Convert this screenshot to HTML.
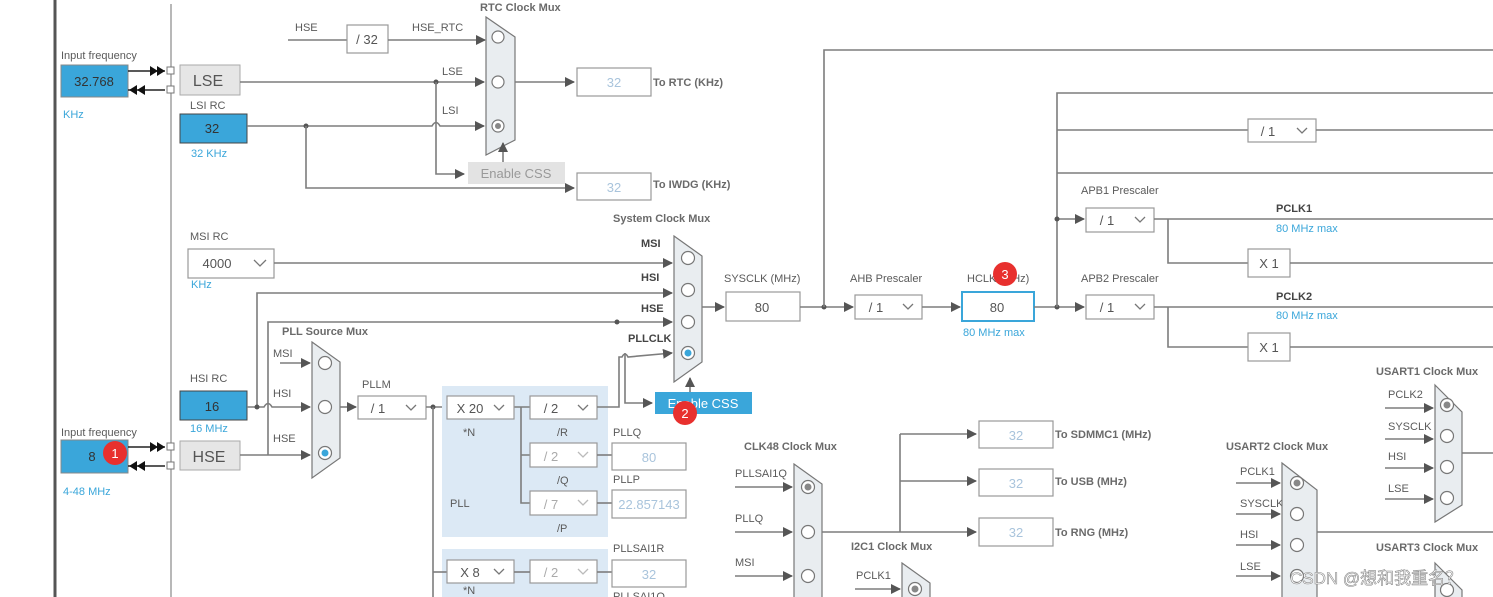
<!DOCTYPE html>
<html><head><meta charset="utf-8"><style>
html,body{margin:0;padding:0;background:#fff;}
svg{display:block;font-family:"Liberation Sans","Noto Sans CJK SC",sans-serif;}
.l{stroke:#7d7d7d;stroke-width:1.6;fill:none}
.t{font-size:11px;fill:#5a5a5a}
.b{font-size:11px;fill:#6a6a6a;font-weight:bold}
.blu{font-size:11px;fill:#3aa6da}
.box{fill:#fff;stroke:#999;stroke-width:1.2}
.dd{fill:#fff;stroke:#999;stroke-width:1.2}
.v{font-size:13px;fill:#555;text-anchor:middle}
.vl{font-size:13px;fill:#a9c4dc;text-anchor:middle}
.mux{fill:#e9edf0;stroke:#777;stroke-width:1.2}
.c{fill:#fff;stroke:#777;stroke-width:1.2}
.dot{fill:#555}
</style></head><body>
<svg width="1493" height="597" viewBox="0 0 1493 597" xmlns="http://www.w3.org/2000/svg">
<defs>
<marker id="a" markerWidth="10" markerHeight="10" refX="9" refY="5" orient="auto" markerUnits="userSpaceOnUse"><path d="M0,0 L10,5 L0,10 z" fill="#555"/></marker>
</defs>
<line x1="55" y1="0" x2="55" y2="597" stroke="#555" stroke-width="3"/>
<line x1="171" y1="4" x2="171" y2="597" stroke="#888" stroke-width="1.2"/>

<text class="t" x="61" y="59">Input frequency</text>
<rect x="61" y="65" width="67" height="32" fill="#3aa6da" stroke="#888"/>
<text class="v" x="94" y="86" style="fill:#333">32.768</text>
<text class="blu" x="63" y="118">KHz</text>
<line x1="128" y1="71" x2="165" y2="71" stroke="#222" stroke-width="1.5"/>
<path d="M150,66 L158,71 L150,76z M157,66 L165,71 L157,76z" fill="#111"/>
<line x1="128" y1="90" x2="165" y2="90" stroke="#222" stroke-width="1.5"/>
<path d="M137,85 L129,90 L137,95z M145,85 L137,90 L145,95z" fill="#111"/>
<rect x="167" y="67" width="7" height="7" fill="#fff" stroke="#777"/>
<rect x="167" y="86" width="7" height="7" fill="#fff" stroke="#777"/>
<rect x="180" y="65" width="60" height="30" fill="#e6e6e6" stroke="#aaa"/>
<text x="208" y="86" style="font-size:16px;fill:#555;text-anchor:middle">LSE</text>

<text class="t" x="190" y="109">LSI RC</text>
<rect x="180" y="114" width="67" height="29" fill="#3aa6da" stroke="#444"/>
<text class="v" x="212" y="133" style="fill:#333">32</text>
<text class="blu" x="191" y="157">32 KHz</text>

<text class="t" x="295" y="31">HSE</text>
<line class="l" x1="288" y1="40" x2="347" y2="40"/>
<rect class="box" x="347" y="25" width="41" height="28"/>
<text class="v" x="367" y="44">/ 32</text>
<text class="t" x="412" y="31">HSE_RTC</text>
<line class="l" x1="388" y1="40" x2="485" y2="40" marker-end="url(#a)"/>
<line class="l" x1="240" y1="82" x2="484" y2="82" marker-end="url(#a)"/>
<circle class="dot" cx="436" cy="82" r="2.5"/>
<text class="t" x="442" y="75">LSE</text>
<path class="l" d="M247,126 L432,126 Q436,119 440,126 L484,126" marker-end="url(#a)"/>
<circle class="dot" cx="306" cy="126" r="2.5"/>
<text class="t" x="442" y="114">LSI</text>
<path class="l" d="M436,82 L436,174 L464,174" marker-end="url(#a)"/>
<rect x="468" y="162" width="97" height="22" fill="#e3e3e3"/>
<text x="516" y="178" style="font-size:13px;fill:#999;text-anchor:middle">Enable CSS</text>
<path class="l" d="M306,126 L306,188 L574,188" marker-end="url(#a)"/>
<text class="b" x="480" y="11">RTC Clock Mux</text>
<path class="mux" d="M486,17 L515,37 L515,140 L486,155 z"/>
<circle class="c" cx="498" cy="37" r="6"/>
<circle class="c" cx="498" cy="82" r="6"/>
<circle class="c" cx="498" cy="126" r="6"/><circle cx="498" cy="126" r="3" fill="#888"/>
<line class="l" x1="503" y1="162" x2="503" y2="143" marker-end="url(#a)"/>
<line class="l" x1="515" y1="82" x2="574" y2="82" marker-end="url(#a)"/>
<rect class="box" x="577" y="68" width="74" height="28"/>
<text class="vl" x="614" y="87">32</text>
<text class="b" x="653" y="86">To RTC (KHz)</text>
<rect class="box" x="577" y="173" width="74" height="27"/>
<text class="vl" x="614" y="192">32</text>
<text class="b" x="653" y="188">To IWDG (KHz)</text>

<text class="t" x="190" y="240">MSI RC</text>
<rect class="dd" x="188" y="249" width="86" height="29"/>
<text class="v" x="217" y="268">4000</text>
<path d="M254,260 L260,266 L266,260" stroke="#777" fill="none" stroke-width="1.3"/>
<text class="blu" x="191" y="288">KHz</text>
<line class="l" x1="274" y1="263" x2="672" y2="263" marker-end="url(#a)"/>

<path class="l" d="M257,407 L257,293 L672,293" marker-end="url(#a)"/>
<path class="l" d="M268,455 L268,322 L672,322" marker-end="url(#a)"/>
<circle class="dot" cx="617" cy="322" r="2.5"/>

<text class="t" x="190" y="382">HSI RC</text>
<rect x="180" y="391" width="67" height="29" fill="#3aa6da" stroke="#444"/>
<text class="v" x="212" y="411" style="fill:#333">16</text>
<text class="blu" x="190" y="432">16 MHz</text>
<path class="l" d="M247,407 L264,407 Q268,400 272,407 L310,407" marker-end="url(#a)"/>
<circle class="dot" cx="257" cy="407" r="2.5"/>

<text class="t" x="61" y="436">Input frequency</text>
<rect x="61" y="440" width="67" height="33" fill="#3aa6da" stroke="#888"/>
<text class="v" x="92" y="461" style="fill:#333">8</text>
<text class="blu" x="63" y="495">4-48 MHz</text>
<line x1="128" y1="447" x2="165" y2="447" stroke="#222" stroke-width="1.5"/>
<path d="M150,442 L158,447 L150,452z M157,442 L165,447 L157,452z" fill="#111"/>
<line x1="128" y1="466" x2="165" y2="466" stroke="#222" stroke-width="1.5"/>
<path d="M137,461 L129,466 L137,471z M145,461 L137,466 L145,471z" fill="#111"/>
<rect x="167" y="443" width="7" height="7" fill="#fff" stroke="#777"/>
<rect x="167" y="462" width="7" height="7" fill="#fff" stroke="#777"/>
<rect x="180" y="441" width="60" height="29" fill="#e6e6e6" stroke="#aaa"/>
<text x="209" y="462" style="font-size:16px;fill:#555;text-anchor:middle">HSE</text>
<line class="l" x1="240" y1="455" x2="310" y2="455" marker-end="url(#a)"/>
<circle cx="115" cy="453" r="12" fill="#e8302e"/>
<text x="115" y="458" style="font-size:13px;fill:#fff;text-anchor:middle">1</text>

<text class="b" x="282" y="335">PLL Source Mux</text>
<text class="t" x="273" y="357">MSI</text>
<text class="t" x="273" y="397">HSI</text>
<text class="t" x="273" y="442">HSE</text>
<line class="l" x1="280" y1="363" x2="310" y2="363" marker-end="url(#a)"/>
<path class="mux" d="M312,342 L340,362 L340,458 L312,478 z"/>
<circle class="c" cx="325" cy="363" r="6.5"/>
<circle class="c" cx="325" cy="407" r="6.5"/>
<circle class="c" cx="325" cy="453" r="6.5" stroke="#3aa6da"/><circle cx="325" cy="453" r="3.5" fill="#3aa6da"/>
<line class="l" x1="340" y1="407" x2="356" y2="407" marker-end="url(#a)"/>
<text class="t" x="362" y="388">PLLM</text>
<rect class="dd" x="358" y="396" width="68" height="23"/>
<text class="v" x="378" y="413">/ 1</text>
<path d="M406,405 L411,410 L416,405" stroke="#777" fill="none" stroke-width="1.3"/>
<line class="l" x1="426" y1="407" x2="447" y2="407"/>
<circle class="dot" cx="433" cy="407" r="2.5"/>

<rect x="442" y="386" width="166" height="151" fill="#dce9f5"/>
<rect x="442" y="549" width="166" height="48" fill="#dce9f5"/>
<line class="l" x1="433" y1="407" x2="433" y2="597"/>
<line class="l" x1="433" y1="572" x2="447" y2="572"/>
<path class="l" d="M514,407 L530,407 M521,407 L521,503 L530,503 M521,455 L530,455"/>
<rect class="dd" x="447" y="396" width="67" height="23"/>
<text class="v" x="470" y="413">X 20</text>
<path d="M494,405 L499,410 L504,405" stroke="#777" fill="none" stroke-width="1.3"/>
<text class="t" x="463" y="436">*N</text>
<rect class="dd" x="530" y="396" width="67" height="23"/>
<text class="v" x="551" y="413">/ 2</text>
<path d="M578,405 L583,410 L588,405" stroke="#777" fill="none" stroke-width="1.3"/>
<text class="t" x="557" y="436">/R</text>
<rect class="dd" x="530" y="443" width="67" height="24"/>
<text class="v" x="551" y="461" style="fill:#aaa">/ 2</text>
<path d="M578,452 L583,457 L588,452" stroke="#bbb" fill="none" stroke-width="1.3"/>
<text class="t" x="557" y="484">/Q</text>
<rect class="dd" x="530" y="491" width="67" height="24"/>
<text class="v" x="551" y="509" style="fill:#aaa">/ 7</text>
<path d="M578,500 L583,505 L588,500" stroke="#bbb" fill="none" stroke-width="1.3"/>
<text class="t" x="557" y="532">/P</text>
<text class="t" x="450" y="507">PLL</text>
<line class="l" x1="597" y1="455" x2="612" y2="455"/>
<line class="l" x1="597" y1="503" x2="612" y2="503"/>
<text class="t" x="613" y="436">PLLQ</text>
<rect class="box" x="612" y="443" width="74" height="27"/>
<text class="vl" x="649" y="462">80</text>
<text class="t" x="613" y="483">PLLP</text>
<rect class="box" x="612" y="490" width="74" height="28"/>
<text class="vl" x="649" y="509">22.857143</text>
<rect class="dd" x="447" y="560" width="67" height="23"/>
<text class="v" x="470" y="577">X 8</text>
<path d="M494,569 L499,574 L504,569" stroke="#777" fill="none" stroke-width="1.3"/>
<rect class="dd" x="530" y="560" width="67" height="23"/>
<text class="v" x="551" y="577" style="fill:#aaa">/ 2</text>
<path d="M578,569 L583,574 L588,569" stroke="#bbb" fill="none" stroke-width="1.3"/>
<line class="l" x1="514" y1="572" x2="530" y2="572"/>
<line class="l" x1="597" y1="572" x2="612" y2="572"/>
<text class="t" x="463" y="594">*N</text>
<text class="t" x="613" y="552">PLLSAI1R</text>
<rect class="box" x="612" y="560" width="74" height="27"/>
<text class="vl" x="649" y="579">32</text>
<text class="t" x="613" y="600">PLLSAI1Q</text>

<path class="l" d="M597,407 L619,407 L619,357 L622,357 Q625,351 628,357 L672,353" marker-end="url(#a)"/>
<path class="l" d="M625,353 L625,403 L652,403" marker-end="url(#a)"/>
<rect x="655" y="392" width="97" height="22" fill="#3aa6da"/>
<text x="703" y="408" style="font-size:13px;fill:#fff;text-anchor:middle">Enable CSS</text>
<line class="l" x1="690" y1="392" x2="690" y2="378" marker-end="url(#a)"/>
<circle cx="685" cy="413" r="12" fill="#e8302e"/>
<text x="685" y="418" style="font-size:13px;fill:#fff;text-anchor:middle">2</text>

<text class="b" x="613" y="222">System Clock Mux</text>
<text class="b" x="641" y="247" style="fill:#444">MSI</text>
<text class="b" x="641" y="281" style="fill:#444">HSI</text>
<text class="b" x="641" y="312" style="fill:#444">HSE</text>
<text class="b" x="628" y="342" style="fill:#444">PLLCLK</text>
<path class="mux" d="M674,236 L702,256 L702,362 L674,382 z"/>
<circle class="c" cx="688" cy="258" r="6.5"/>
<circle class="c" cx="688" cy="290" r="6.5"/>
<circle class="c" cx="688" cy="322" r="6.5"/>
<circle class="c" cx="688" cy="353" r="6.5" stroke="#3aa6da"/><circle cx="688" cy="353" r="3.5" fill="#3aa6da"/>
<line class="l" x1="702" y1="307" x2="724" y2="307" marker-end="url(#a)"/>
<text class="t" x="724" y="282">SYSCLK (MHz)</text>
<rect class="box" x="726" y="292" width="74" height="29"/>
<text class="v" x="762" y="312">80</text>
<line class="l" x1="800" y1="307" x2="853" y2="307" marker-end="url(#a)"/>
<circle class="dot" cx="824" cy="307" r="2.5"/>
<path class="l" d="M824,307 L824,50 L1493,50"/>
<text class="t" x="850" y="282">AHB Prescaler</text>
<rect class="dd" x="855" y="295" width="67" height="24"/>
<text class="v" x="876" y="312">/ 1</text>
<path d="M903,304 L908,309 L913,304" stroke="#777" fill="none" stroke-width="1.3"/>
<line class="l" x1="922" y1="307" x2="960" y2="307" marker-end="url(#a)"/>
<text class="t" x="967" y="282">HCLK (MHz)</text>
<rect x="962" y="292" width="72" height="29" fill="#fff" stroke="#3aa6da" stroke-width="2"/>
<text class="v" x="997" y="312">80</text>
<text class="blu" x="963" y="336">80 MHz max</text>
<circle cx="1005" cy="274" r="12" fill="#e8302e"/>
<text x="1005" y="279" style="font-size:13px;fill:#fff;text-anchor:middle">3</text>
<line class="l" x1="1034" y1="307" x2="1084" y2="307" marker-end="url(#a)"/>
<circle class="dot" cx="1057" cy="307" r="2.5"/>
<path class="l" d="M1057,307 L1057,93 L1493,93"/>
<line class="l" x1="1057" y1="130" x2="1248" y2="130"/>
<rect class="dd" x="1248" y="119" width="68" height="23"/>
<text class="v" x="1268" y="136">/ 1</text>
<path d="M1297,128 L1302,133 L1307,128" stroke="#777" fill="none" stroke-width="1.3"/>
<line class="l" x1="1316" y1="130" x2="1493" y2="130"/>
<line class="l" x1="1057" y1="173" x2="1493" y2="173"/>
<text class="t" x="1081" y="194">APB1 Prescaler</text>
<line class="l" x1="1057" y1="219" x2="1084" y2="219" marker-end="url(#a)"/>
<circle class="dot" cx="1057" cy="219" r="2.5"/>
<rect class="dd" x="1086" y="208" width="68" height="24"/>
<text class="v" x="1107" y="225">/ 1</text>
<path d="M1135,217 L1140,222 L1145,217" stroke="#777" fill="none" stroke-width="1.3"/>
<line class="l" x1="1154" y1="219" x2="1493" y2="219"/>
<text class="b" x="1276" y="212" style="fill:#444">PCLK1</text>
<text class="blu" x="1276" y="232">80 MHz max</text>
<path class="l" d="M1168,219 L1168,263 L1248,263"/>
<rect class="box" x="1248" y="249" width="42" height="28"/>
<text class="v" x="1269" y="268">X 1</text>
<line class="l" x1="1290" y1="263" x2="1493" y2="263"/>
<text class="t" x="1081" y="282">APB2 Prescaler</text>
<rect class="dd" x="1086" y="295" width="68" height="24"/>
<text class="v" x="1107" y="312">/ 1</text>
<path d="M1135,304 L1140,309 L1145,304" stroke="#777" fill="none" stroke-width="1.3"/>
<line class="l" x1="1154" y1="307" x2="1493" y2="307"/>
<text class="b" x="1276" y="300" style="fill:#444">PCLK2</text>
<text class="blu" x="1276" y="319">80 MHz max</text>
<path class="l" d="M1168,307 L1168,347 L1248,347"/>
<rect class="box" x="1248" y="333" width="42" height="28"/>
<text class="v" x="1269" y="352">X 1</text>
<line class="l" x1="1290" y1="347" x2="1493" y2="347"/>

<text class="b" x="744" y="450">CLK48 Clock Mux</text>
<text class="t" x="735" y="477">PLLSAI1Q</text>
<text class="t" x="735" y="522">PLLQ</text>
<text class="t" x="735" y="566">MSI</text>
<line class="l" x1="735" y1="487" x2="792" y2="487" marker-end="url(#a)"/>
<line class="l" x1="735" y1="532" x2="792" y2="532" marker-end="url(#a)"/>
<line class="l" x1="735" y1="576" x2="792" y2="576" marker-end="url(#a)"/>
<path class="mux" d="M794,464 L822,484 L822,610 L794,610 z"/>
<circle class="c" cx="808" cy="487" r="6.5"/><circle cx="808" cy="487" r="3.5" fill="#888"/>
<circle class="c" cx="808" cy="532" r="6.5"/>
<circle class="c" cx="808" cy="576" r="6.5"/>
<line class="l" x1="822" y1="532" x2="976" y2="532" marker-end="url(#a)"/>
<line class="l" x1="900" y1="532" x2="900" y2="434"/>
<line class="l" x1="900" y1="434" x2="976" y2="434" marker-end="url(#a)"/>
<line class="l" x1="900" y1="481" x2="976" y2="481" marker-end="url(#a)"/>
<rect class="box" x="979" y="421" width="74" height="27"/>
<text class="vl" x="1016" y="440">32</text>
<text class="b" x="1055" y="438">To SDMMC1 (MHz)</text>
<rect class="box" x="979" y="469" width="74" height="27"/>
<text class="vl" x="1016" y="488">32</text>
<text class="b" x="1055" y="485">To USB (MHz)</text>
<rect class="box" x="979" y="518" width="74" height="28"/>
<text class="vl" x="1016" y="537">32</text>
<text class="b" x="1055" y="536">To RNG (MHz)</text>
<text class="b" x="851" y="550">I2C1 Clock Mux</text>
<text class="t" x="856" y="579">PCLK1</text>
<line class="l" x1="855" y1="589" x2="900" y2="589" marker-end="url(#a)"/>
<path class="mux" d="M902,563 L930,583 L930,610 L902,610 z"/>
<circle class="c" cx="915" cy="589" r="6.5"/><circle cx="915" cy="589" r="3.5" fill="#888"/>

<text class="b" x="1226" y="450">USART2 Clock Mux</text>
<text class="t" x="1240" y="475">PCLK1</text>
<text class="t" x="1240" y="507">SYSCLK</text>
<text class="t" x="1240" y="538">HSI</text>
<text class="t" x="1240" y="570">LSE</text>
<line class="l" x1="1236" y1="483" x2="1280" y2="483" marker-end="url(#a)"/>
<line class="l" x1="1236" y1="514" x2="1280" y2="514" marker-end="url(#a)"/>
<line class="l" x1="1236" y1="545" x2="1280" y2="545" marker-end="url(#a)"/>
<line class="l" x1="1236" y1="576" x2="1280" y2="576" marker-end="url(#a)"/>
<path class="mux" d="M1282,463 L1317,490 L1317,610 L1282,610 z"/>
<circle class="c" cx="1297" cy="483" r="6.5"/><circle cx="1297" cy="483" r="3.5" fill="#888"/>
<circle class="c" cx="1297" cy="514" r="6.5"/>
<circle class="c" cx="1297" cy="545" r="6.5"/>
<circle class="c" cx="1297" cy="576" r="6.5"/>
<line class="l" x1="1317" y1="532" x2="1493" y2="532"/>
<text class="b" x="1376" y="375">USART1 Clock Mux</text>
<text class="t" x="1388" y="398">PCLK2</text>
<text class="t" x="1388" y="430">SYSCLK</text>
<text class="t" x="1388" y="460">HSI</text>
<text class="t" x="1388" y="492">LSE</text>
<line class="l" x1="1385" y1="408" x2="1433" y2="408" marker-end="url(#a)"/>
<line class="l" x1="1385" y1="439" x2="1433" y2="439" marker-end="url(#a)"/>
<line class="l" x1="1385" y1="468" x2="1433" y2="468" marker-end="url(#a)"/>
<line class="l" x1="1385" y1="499" x2="1433" y2="499" marker-end="url(#a)"/>
<path class="mux" d="M1435,385 L1462,412 L1462,505 L1435,522 z"/>
<circle class="c" cx="1447" cy="405" r="6.5"/><circle cx="1447" cy="405" r="3.5" fill="#888"/>
<circle class="c" cx="1447" cy="436" r="6.5"/>
<circle class="c" cx="1447" cy="467" r="6.5"/>
<circle class="c" cx="1447" cy="498" r="6.5"/>
<line class="l" x1="1462" y1="453" x2="1493" y2="453"/>
<text class="b" x="1376" y="551">USART3 Clock Mux</text>
<path class="mux" d="M1435,563 L1462,590 L1462,610 L1435,610 z"/>
<circle class="c" cx="1447" cy="590" r="6.5"/>

<text x="1290" y="584" style="font-size:17px;fill:#fff;stroke:#888;stroke-width:0.6">CSDN @想和我重名？</text>
</svg>
</body></html>
